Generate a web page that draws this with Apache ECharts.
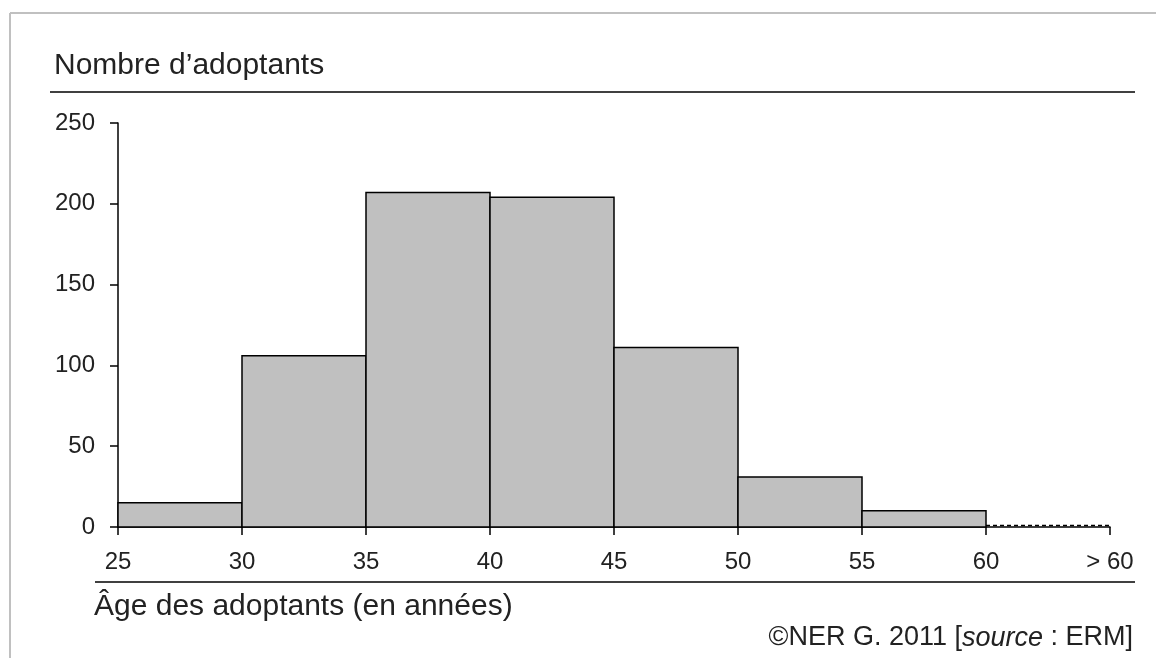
<!DOCTYPE html>
<html>
<head>
<meta charset="utf-8">
<script src="https://cdn.jsdelivr.net/npm/echarts@6/dist/echarts.min.js"></script>
<style>
html,body{margin:0;padding:0;background:#fff;}
#c{width:1156px;height:658px;}
</style>
</head>
<body>
<div id="c"></div>
<script>
const binStarts = [25, 30, 35, 40, 45, 50, 55, 60];
const binWidth = 5;
const counts = [15, 106, 207, 204, 111, 31, 10, 1];
const xTicks = [25, 30, 35, 40, 45, 50, 55, 60, 65];
const xTickLabels = ['25', '30', '35', '40', '45', '50', '55', '60', '> 60'];
const yTicks = [0, 50, 100, 150, 200, 250];
const yTitle = 'Nombre d\u2019adoptants';
const xTitle = '\u00C2ge des adoptants (en ann\u00e9es)';

const FONT = '"Liberation Sans", Arial, sans-serif';
const chart = echarts.init(document.getElementById('c'), null, {renderer: 'canvas'});

const data = binStarts.map((s, i) => [s, s + binWidth, counts[i], i === binStarts.length - 1 ? 1 : 0]);

chart.setOption({
  animation: false,
  backgroundColor: '#fff',
  grid: {left: 118, right: 46, top: 123, bottom: 131, containLabel: false},
  xAxis: {
    type: 'value', min: xTicks[0], max: xTicks[xTicks.length - 1], interval: 5,
    axisLine: {show: true, lineStyle: {color: '#000', width: 1.5}},
    axisTick: {show: true, length: 8, lineStyle: {color: '#000', width: 1.5}},
    splitLine: {show: false},
    axisLabel: {
      color: '#222', fontFamily: FONT, fontSize: 24, margin: 23,
      formatter: v => { const i = xTicks.indexOf(v); return i >= 0 ? xTickLabels[i] : ''; }
    }
  },
  yAxis: {
    type: 'value', min: yTicks[0], max: yTicks[yTicks.length - 1], interval: 50,
    axisLine: {show: true, lineStyle: {color: '#000', width: 1.5}},
    axisTick: {show: true, length: 8, lineStyle: {color: '#000', width: 1.5}},
    splitLine: {show: false},
    axisLabel: {color: '#222', fontFamily: FONT, fontSize: 24, margin: 23}
  },
  series: [{
    type: 'custom',
    data: data,
    encode: {x: [0, 1], y: 2},
    renderItem: function (params, api) {
      const x0 = api.value(0), x1 = api.value(1), v = api.value(2), dashed = api.value(3);
      const p0 = api.coord([x0, v]);
      const p1 = api.coord([x1, 0]);
      if (dashed) {
        return {
          type: 'line',
          shape: {x1: p0[0], y1: p0[1], x2: p1[0], y2: p0[1]},
          style: {stroke: '#000', lineWidth: 1.5, lineDash: [4, 3]}
        };
      }
      return {
        type: 'rect',
        shape: {x: p0[0], y: p0[1], width: p1[0] - p0[0], height: p1[1] - p0[1]},
        style: {fill: '#c0c0c0', stroke: '#000', lineWidth: 1.5}
      };
    }
  }],
  graphic: [
    {type: 'line', shape: {x1: 10, y1: 13, x2: 1156, y2: 13}, style: {stroke: '#c0c0c0', lineWidth: 2}},
    {type: 'line', shape: {x1: 10, y1: 13, x2: 10, y2: 658}, style: {stroke: '#c0c0c0', lineWidth: 2}},
    {type: 'text', x: 54, y: 66, style: {text: yTitle, font: '30px ' + FONT, fill: '#222', verticalAlign: 'middle'}},
    {type: 'line', shape: {x1: 50, y1: 92, x2: 1135, y2: 92}, style: {stroke: '#000', lineWidth: 1.5}},
    {type: 'line', shape: {x1: 95, y1: 582, x2: 1135, y2: 582}, style: {stroke: '#000', lineWidth: 1.5}},
    {type: 'text', x: 94, y: 607, style: {text: xTitle, font: '30px ' + FONT, fill: '#222', verticalAlign: 'middle'}},
    {type: 'text', x: 1133, y: 638, style: {
      text: '\u00A9NER G. 2011 [{i|source} : ERM]',
      font: '27px ' + FONT, fill: '#222', align: 'right', verticalAlign: 'middle',
      rich: {i: {fontStyle: 'italic', fontSize: 27, fontFamily: FONT, fill: '#222'}}
    }}
  ]
});
</script>
</body>
</html>
